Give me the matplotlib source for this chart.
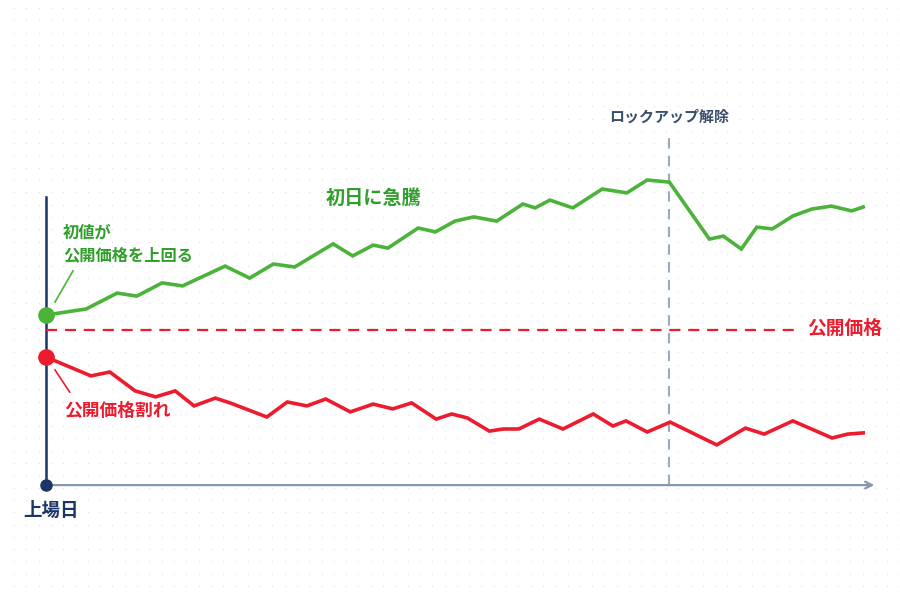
import matplotlib.pyplot as plt
import numpy as np

plt.rcParams['font.family'] = ['Noto Sans CJK JP', 'DejaVu Sans']

# days since listing / price as % of IPO price
up_days = [0, 4.9, 8.7, 11.1, 14.2, 16.7, 21.9, 24.9, 27.8, 30.4, 35.1, 37.5, 40.0, 41.8,
           45.5, 47.6, 50.0, 52.3, 55.1, 58.3, 59.8, 61.6, 64.4, 68.0, 71.0, 73.5, 76.2,
           81.1, 82.8, 85.0, 86.9, 88.8, 91.3, 93.6, 96.0, 98.5, 99.9]
up_price = [105.0, 107.0, 112.3, 111.3, 115.7, 114.7, 121.3, 117.3, 122.0, 121.0, 128.7,
            124.7, 128.3, 127.3, 134.0, 132.7, 136.3, 137.7, 136.3, 142.0, 140.7, 143.3,
            140.7, 147.0, 145.7, 150.0, 149.3, 130.3, 131.3, 127.0, 134.3, 133.7, 138.0,
            140.3, 141.3, 139.7, 141.0]

down_days = [0, 5.5, 7.8, 10.9, 13.4, 15.8, 18.1, 20.7, 22.5, 27.0, 29.5, 31.9, 34.2, 37.2,
             40.0, 42.4, 44.7, 47.7, 49.6, 51.5, 54.2, 55.9, 57.8, 60.3, 63.2, 66.9, 69.3,
             70.9, 73.5, 76.3, 82.0, 85.5, 87.8, 91.3, 96.1, 98.0, 99.9]
down_price = [91.0, 84.7, 86.0, 79.7, 77.7, 79.7, 74.7, 77.3, 75.7, 71.0, 76.0, 74.7, 77.0,
              72.7, 75.3, 73.7, 75.7, 70.3, 72.0, 70.7, 66.3, 67.0, 67.0, 70.3, 67.0, 72.0,
              68.0, 69.7, 66.0, 69.3, 61.7, 67.3, 65.3, 69.7, 64.0, 65.3, 65.7]

ipo_price = 100
lockup_day = 76.2

green = '#4cb33a'
green_txt = '#2f9e2a'
red = '#ec1c2e'
navy = '#1b3566'
axis_gray = '#8797ac'

fig = plt.figure(figsize=(9, 6), dpi=100)
ax = fig.add_axes([0, 0, 1, 1])
ax.set_xlim(-5.62, 104.4)
ax.set_ylim(10, 210)
ax.axis('off')

# dotted background
gx, gy = np.meshgrid(np.arange(14, 900, 12.3) / 900, np.arange(14, 600, 12.3) / 600)
ax.scatter(gx.ravel(), gy.ravel(), s=1.2, color='#e4e6ea', transform=fig.transFigure,
           zorder=0, linewidths=0)

# axes
base = 48.3
ax.plot([0, 0], [base, 144.3], color=navy, lw=1.8, zorder=2)
ax.annotate('', xy=(101.6, base), xytext=(0, base),
            arrowprops=dict(arrowstyle='->', color=axis_gray, lw=1.6, mutation_scale=12))
ax.plot([0], [base], 'o', color=navy, ms=8, zorder=5)
ax.text(0.6, base - 8.3, '上場日', color=navy, fontsize=13.3, fontweight='bold',
        ha='center', va='center')

# IPO price line
ax.plot([0, 91.6], [ipo_price, ipo_price], color=red, lw=1.6, dashes=(5, 3.5), zorder=2)
ax.text(93.1, ipo_price + 0.7, '公開価格', color=red, fontsize=13.5, fontweight='bold',
        ha='left', va='center')

# lock-up expiry
ax.plot([lockup_day, lockup_day], [base, 164.5], color='#9aa9bb', lw=1.5, dashes=(5, 3.5), zorder=1)
ax.text(lockup_day, 171.0, 'ロックアップ解除', color='#3a4e6c', fontsize=10.8,
        fontweight='bold', ha='center', va='center')

# price paths
ax.plot(up_days, up_price, color=green, lw=2.6, solid_joinstyle='miter', zorder=3)
ax.plot(down_days, down_price, color=red, lw=2.6, solid_joinstyle='miter', zorder=3)
ax.plot([0], [up_price[0]], 'o', color=green, ms=11, zorder=4)
ax.plot([0], [down_price[0]], 'o', color=red, ms=11, zorder=4)

# annotations
ax.text(40.0, 144.0, '初日に急騰', color=green_txt, fontsize=13.8, fontweight='bold',
        ha='center', va='center')
ax.plot([1.1, 3.3], [109.3, 119.7], color=green, lw=1.2)
ax.text(2.1, 132.5, '初値が', color=green_txt, fontsize=11.7, fontweight='bold',
        ha='left', va='center')
ax.text(2.1, 124.8, '公開価格を上回る', color=green_txt, fontsize=11.7, fontweight='bold',
        ha='left', va='center')
ax.plot([1.1, 2.9], [86.7, 79.3], color=red, lw=1.2)
ax.text(2.2, 72.9, '公開価格割れ', color=red, fontsize=12.8, fontweight='bold',
        ha='left', va='center')

fig.savefig('out.png', dpi=100, facecolor='white')
